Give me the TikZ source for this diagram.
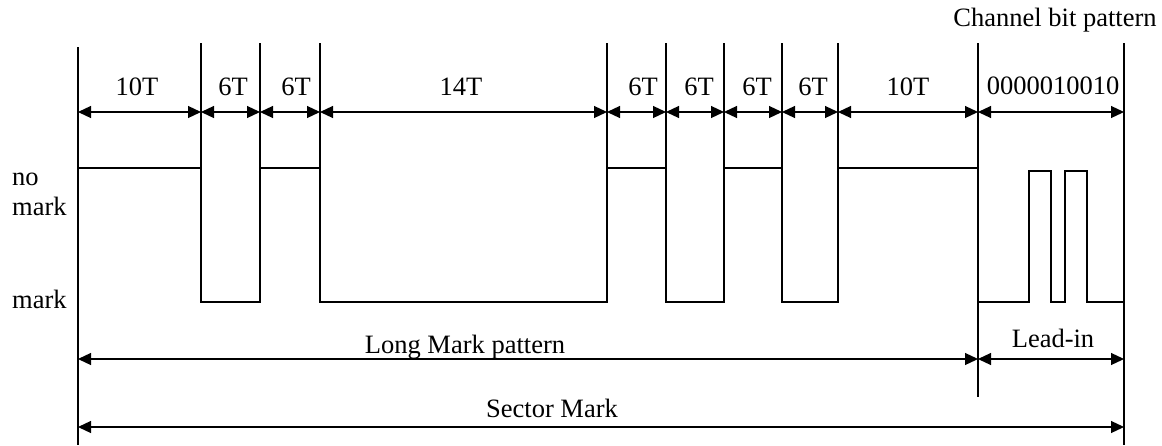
\documentclass[tikz,border=0pt]{standalone}
\usepackage{fontspec}
\setmainfont{Liberation Serif}
\usetikzlibrary{arrows.meta}
\begin{document}
\begin{tikzpicture}[x=1pt,y=-1pt,
  guide/.style={line width=1.2pt},
  wave/.style={line width=2.2pt, line join=miter},
  dim/.style={line width=1.2pt, {Triangle[length=13pt,width=12pt]}-{Triangle[length=13pt,width=12pt]}},
  lbl/.style={font=\fontsize{26.5}{30}\selectfont, inner sep=0pt, anchor=base}]
\useasboundingbox (0,0) rectangle (1162,445);
% vertical guide positions
\foreach \n/\x in {0/78,1/201,2/260,3/320,4/607,5/666,6/724,7/782,8/838,9/978,10/1124}{
  \coordinate (t\n) at (\x,43);
  \coordinate (h\n) at (\x,168);
  \coordinate (a\n) at (\x,112);
  \coordinate (l\n) at (\x,359);
  \coordinate (s\n) at (\x,427);
}
\coordinate (t0) at (78,47);
\coordinate (b0) at (78,445);
\coordinate (b9) at (978,397);
\coordinate (b10) at (1124,445);
% guide lines
\draw[guide] (t0) -- (b0);
\foreach \n in {1,...,8}{\draw[guide] (t\n) -- (h\n);}
\draw[guide] (t9) -- (b9);
\draw[guide] (t10) -- (b10);
% top dimension arrows
\foreach \i/\j in {0/1,1/2,2/3,3/4,4/5,5/6,6/7,7/8,8/9,9/10}{
  \draw[dim] (a\i) -- (a\j);
}
\node[lbl] (d1) at (137,95) {10T};
\node[lbl] (d2) at (233,95) {6T};
\node[lbl] (d3) at (296,95) {6T};
\node[lbl] (d4) at (461,95) {14T};
\node[lbl] (d5) at (643,95) {6T};
\node[lbl] (d6) at (699,95) {6T};
\node[lbl] (d7) at (757,95) {6T};
\node[lbl] (d8) at (813,95) {6T};
\node[lbl] (d9) at (908,95) {10T};
\node[lbl] (d10) at (1053,94) {0000010010};
\node[lbl] (cbp) at (1055,26) {Channel bit pattern};
% level labels
\node[lbl, anchor=base west] (nm1) at (12,185) {no};
\node[lbl, anchor=base west] (nm2) at (12,215) {mark};
\node[lbl, anchor=base west] (mk) at (12,308) {mark};
% waveform
\draw[wave] (78,302) -- (78,168) -- (201,168) -- (201,302) -- (260,302) -- (260,168)
  -- (320,168) -- (320,302) -- (607,302) -- (607,168) -- (666,168) -- (666,302)
  -- (724,302) -- (724,168) -- (782,168) -- (782,302) -- (838,302) -- (838,168)
  -- (978,168) -- (978,302) -- (1029,302) -- (1029,171) -- (1051,171) -- (1051,302)
  -- (1065,302) -- (1065,171) -- (1087,171) -- (1087,302) -- (1124,302);
% bottom dimensions
\draw[dim] (l0) -- (l9);
\draw[dim] (l9) -- (l10);
\draw[dim] (s0) -- (s10);
\node[lbl] (lmp) at (465,353) {Long Mark pattern};
\node[lbl] (li) at (1053,347) {Lead-in};
\node[lbl] (sm) at (552,417) {Sector Mark};
\end{tikzpicture}
\end{document}
